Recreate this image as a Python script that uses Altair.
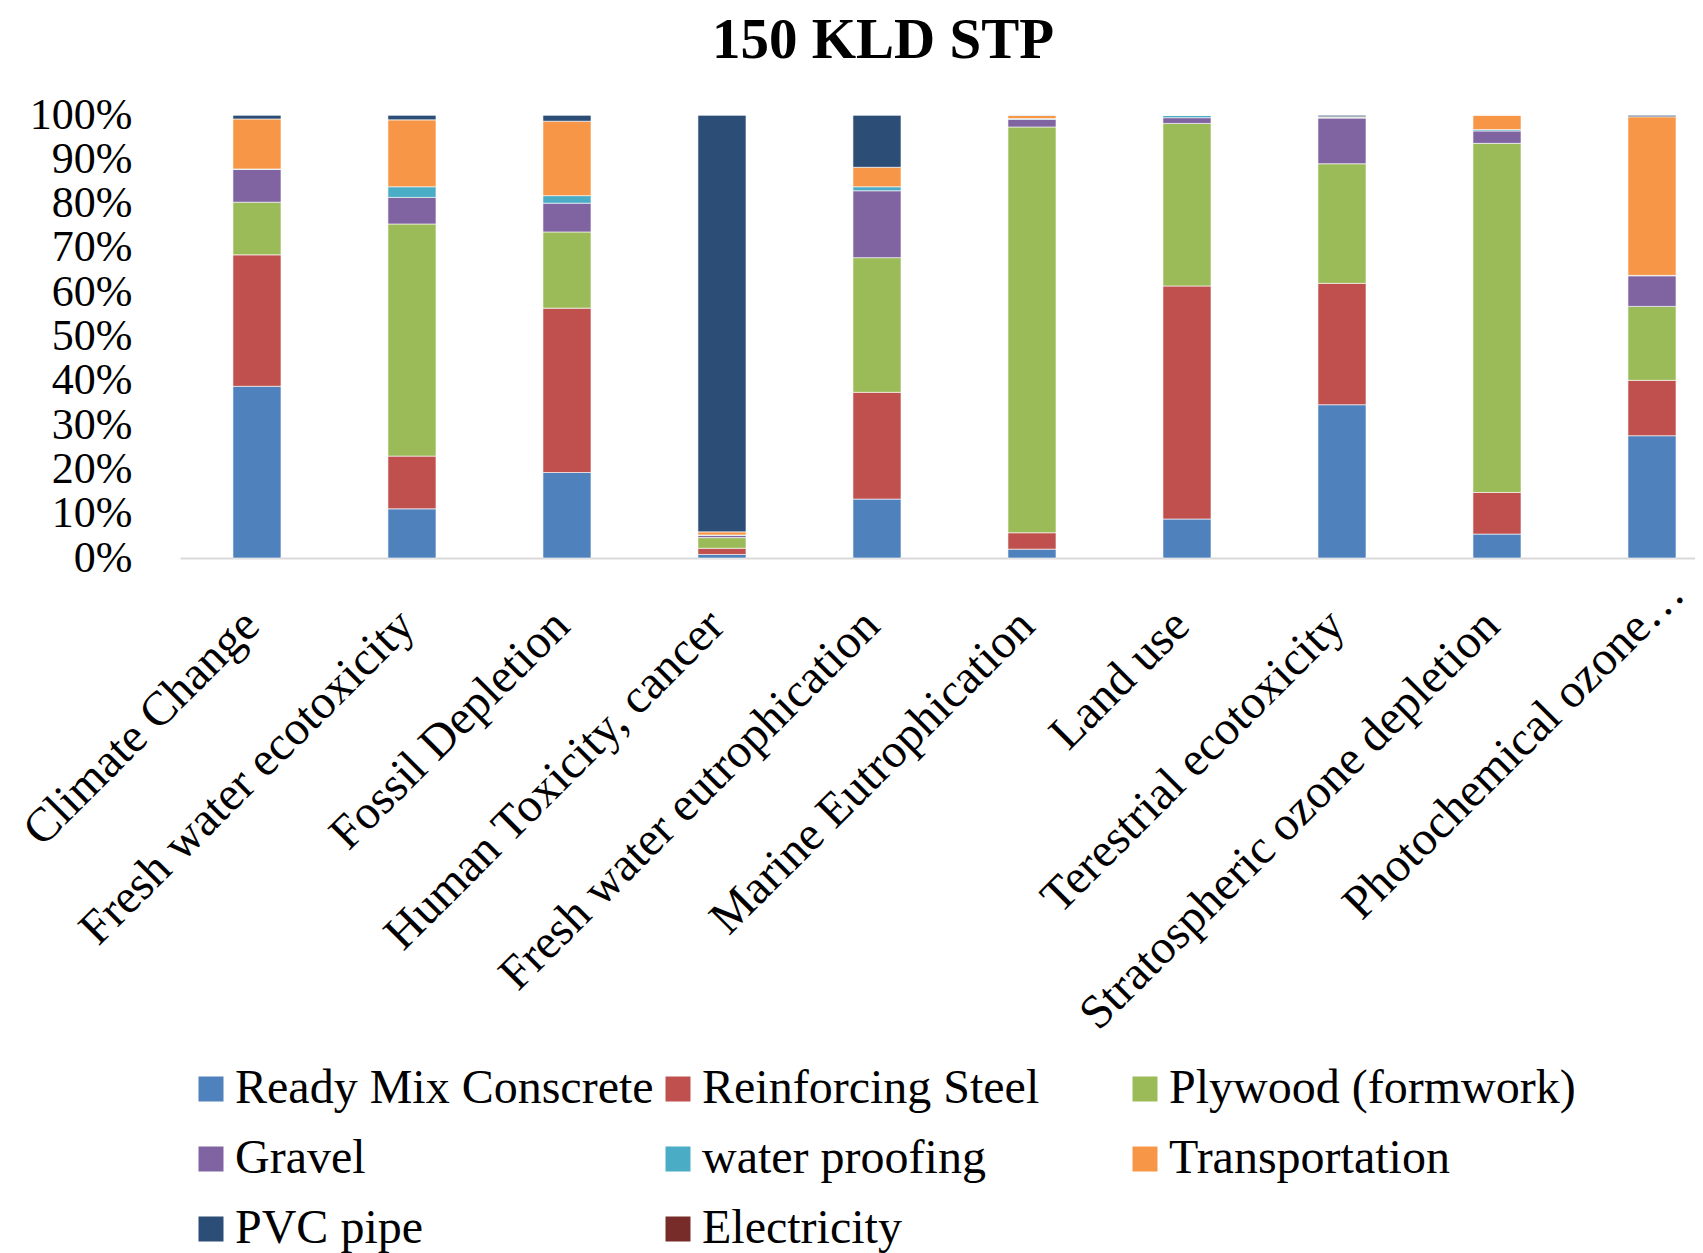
import altair as alt
import pandas as pd

categories = [
    "Climate Change",
    "Fresh water ecotoxicity",
    "Fossil Depletion",
    "Human Toxicity, cancer",
    "Fresh water eutrophication",
    "Marine Eutrophication",
    "Land use",
    "Terestrial ecotoxicity",
    "Stratospheric ozone depletion",
    "Photochemical ozone…",
]

series_names = [
    "Ready Mix Conscrete",
    "Reinforcing Steel",
    "Plywood (formwork)",
    "Gravel",
    "water proofing",
    "Transportation",
    "PVC pipe",
    "Electricity",
]

ready_mix = [38.8, 11.1, 19.3, 0.8, 13.3, 2.0, 8.8, 34.6, 5.4, 27.6]
steel = [29.7, 11.9, 37.1, 1.4, 24.1, 3.7, 52.6, 27.4, 9.4, 12.5]
plywood = [11.9, 52.4, 17.2, 2.4, 30.4, 91.6, 36.7, 27.0, 78.8, 16.7]
gravel = [7.4, 6.0, 6.5, 0.5, 15.1, 1.7, 1.3, 10.3, 2.8, 6.9]
water_proofing = [0.1, 2.4, 1.7, 0.1, 0.9, 0.2, 0.5, 0.2, 0.3, 0.1]
transportation = [11.3, 15.1, 16.8, 0.7, 4.4, 0.7, 0.1, 0.1, 3.3, 35.8]
pvc_pipe = [0.9, 1.1, 1.4, 94.1, 11.8, 0.1, 0.0, 0.4, 0.0, 0.4]
electricity = [0.0, 0.0, 0.0, 0.0, 0.0, 0.0, 0.0, 0.0, 0.0, 0.0]

chart_title = ["150 KLD STP"]

colors = ["#4F81BD", "#C0504D", "#9BBB59", "#8064A2", "#4BACC6", "#F79646", "#2C4D75", "#772C2A"]

all_series = [ready_mix, steel, plywood, gravel, water_proofing, transportation, pvc_pipe, electricity]

rows = []
for si, (name, vals) in enumerate(zip(series_names, all_series)):
    for ci, cat in enumerate(categories):
        rows.append({"category": cat, "series": name, "value": vals[ci], "order": si})
df = pd.DataFrame(rows)

FONT = "Liberation Serif"
LAST_TEST = "indexof(datum.value, 'Photochemical') >= 0"

bars = (
    alt.Chart(df)
    .mark_bar(stroke="#FFFFFF", strokeWidth=1, strokeOpacity=0.6)
    .encode(
        x=alt.X(
            "category:N",
            sort=categories,
            scale=alt.Scale(paddingInner=0.69, paddingOuter=0.232, align=0.736),
            axis=alt.Axis(
                title=None,
                ticks=False,
                domain=True,
                domainColor="#D9D9D9",
                domainWidth=2,
                labelAngle=-45,
                labelAlign="right",
                labelBaseline="middle",
                labelPadding={"condition": {"test": LAST_TEST, "value": 28}, "value": 60},
                labelOffset={"condition": {"test": LAST_TEST, "value": 25}, "value": -5},
                labelLimit=1000,
                labelFont=FONT,
                labelFontSize=48,
                labelColor="#000000",
            ),
        ),
        y=alt.Y(
            "value:Q",
            stack="normalize",
            scale=alt.Scale(domain=[0, 1], nice=False),
            axis=alt.Axis(
                title=None,
                grid=False,
                domain=False,
                ticks=False,
                values=[0, 0.1, 0.2, 0.3, 0.4, 0.5, 0.6, 0.7, 0.8, 0.9, 1.0],
                format=".0%",
                labelPadding=48,
                labelOverlap=False,
                labelFont=FONT,
                labelFontSize=44,
                labelColor="#000000",
            ),
        ),
        color=alt.Color(
            "series:N",
            scale=alt.Scale(domain=series_names, range=colors),
            legend=alt.Legend(
                title=None,
                orient="none",
                legendX=7,
                legendY=950,
                direction="horizontal",
                columns=3,
                columnPadding=0,
                rowPadding=22,
                gridAlign="all",
                symbolType="square",
                symbolSize=625,
                symbolStrokeWidth=0,
                labelFont=FONT,
                labelFontSize=48,
                labelColor="#000000",
                labelOffset=0,
                labelLimit=1000,
                padding=0,
            ),
        ),
        order=alt.Order("order:Q", sort="ascending"),
    )
)

title_text = (
    alt.Chart(pd.DataFrame({"t": chart_title}))
    .mark_text(
        font=FONT,
        fontSize=57,
        fontWeight="bold",
        color="#000000",
        align="center",
        baseline="alphabetic",
    )
    .encode(text="t:N", x=alt.value(703), y=alt.value(-57))
)

chart = (
    alt.layer(bars, title_text)
    .properties(
        width=1515,
        height=443,
        autosize=alt.AutoSizeParams(type="none"),
        padding={"left": 172, "top": 107, "right": 0, "bottom": 695},
    )
    .configure_view(stroke=None)
)

chart.save("out.html", embed_options={"renderer": "svg", "actions": False})
